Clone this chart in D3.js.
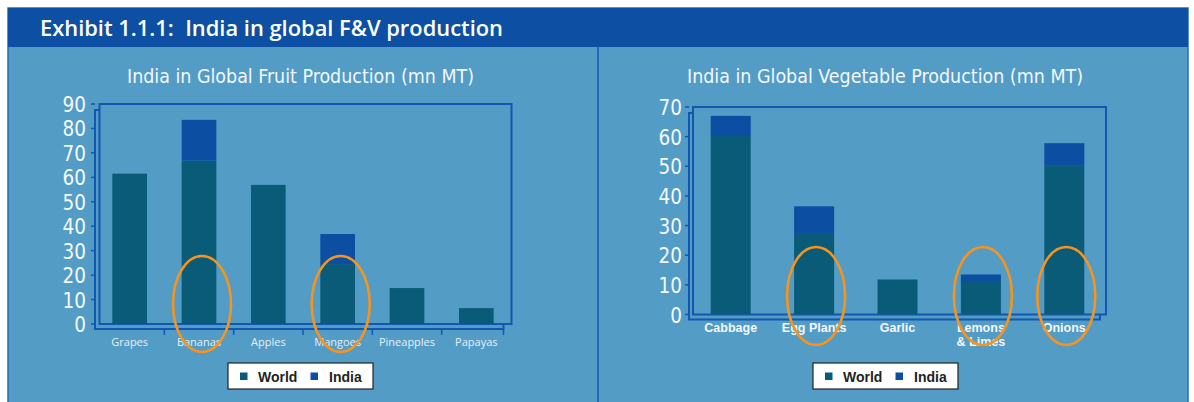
<!DOCTYPE html>
<html><head><meta charset="utf-8">
<script src="https://cdn.jsdelivr.net/npm/d3@7/dist/d3.min.js"></script>
<style>html,body{margin:0;padding:0;background:#fff;}svg{display:block;}</style>
</head><body>
<svg id="c" width="1194" height="402"></svg>
<script>
// ---- data ----
const fruitCategories = ["Grapes","Bananas","Apples","Mangoes","Pineapples","Papayas"];
const fruitWorld = [61.5, 66.8, 56.9, 24.5, 14.7, 6.5];
const fruitIndia = [0, 16.7, 0, 12.3, 0, 0];
const fruitTicks = [0,10,20,30,40,50,60,70,80,90];
const fruitHighlight = ["Bananas","Mangoes"];

const vegCategories = ["Cabbage","Egg Plants","Garlic","Lemons\n& Limes","Onions"];
const vegWorld = [60.2, 27.5, 11.8, 11.3, 50.4];
const vegIndia = [6.8, 9.0, 0, 2.2, 7.4];
const vegTicks = [0,10,20,30,40,50,60,70];
const vegHighlight = ["Egg Plants","Lemons\n& Limes","Onions"];

const seriesNames = ["World","India"];
const seriesColors = ["#0a5b78","#0c4ea2"];

const svg = d3.select("#c");
const BODY = "#529cc6", HEAD = "#0d4fa2", FRAME = "#1257b0";
const NARROW = "'Liberation Sans Narrow','DejaVu Sans Condensed',sans-serif";

// panel
svg.append("rect").attr("x",8).attr("y",8).attr("width",1180).attr("height",400).attr("fill",BODY)
  .attr("stroke","#2a6bb8").attr("stroke-width",1.5);
svg.append("rect").attr("x",8).attr("y",8).attr("width",1180).attr("height",39).attr("fill",HEAD);
svg.append("line").attr("x1",598).attr("x2",598).attr("y1",47).attr("y2",402).attr("stroke","#1a5fb0").attr("stroke-width",1.6);
svg.append("text").attr("x",40).attr("y",35.5).text("Exhibit 1.1.1:\u00a0\u00a0India in global F&V production")
  .attr("fill","#fff").attr("font-family","'Open Sans',sans-serif").attr("font-weight",600).attr("font-size",21.5)
  .attr("textLength",463).attr("lengthAdjust","spacingAndGlyphs");

function chart(o){
  const g = svg.append("g");
  const x = d3.scaleBand().domain(o.cats).range([o.x0,o.x1]).paddingInner(o.pi).paddingOuter(o.po);
  const y = d3.scaleLinear().domain([0,o.max]).range([o.yb,o.yt]);
  // title
  g.append("text").attr("x",o.tx).attr("y",83).text(o.title).attr("fill","#f4f7fb")
    .attr("font-family",NARROW).attr("font-size",20).attr("text-anchor","middle")
    .attr("textLength",o.tw).attr("lengthAdjust","spacingAndGlyphs");
  // inner box
  g.append("rect").attr("x",o.bx0).attr("y",o.yt).attr("width",o.bx1-o.bx0).attr("height",o.yb-o.yt)
    .attr("fill","none").attr("stroke",FRAME).attr("stroke-width",2);
  // front axes (3D offset)
  g.append("path").attr("d",`M${o.bx0},${o.yt+6}H${o.ax}V${o.yb+5}H${o.axEnd}V${o.yb}`)
    .attr("fill","none").attr("stroke",FRAME).attr("stroke-width",2);
  // y ticks
  g.selectAll(".yt").data(o.ticks).join("line").attr("x1",o.ax-4).attr("x2",o.ax)
    .attr("y1",d=>y(d)).attr("y2",d=>y(d)).attr("stroke",FRAME).attr("stroke-width",1.5);
  g.selectAll(".yl").data(o.ticks).join("text").attr("x",o.lx).attr("y",d=>y(d)+1)
    .attr("text-anchor","end").attr("dominant-baseline","central").attr("fill","#f6f9fc")
    .attr("font-family",NARROW).attr("font-size",20.5).text(d=>d);
  if(o.catTicks){
    const bounds = o.cats.slice(1).map(c=>x(c)-x.step()*x.paddingInner()/2).concat([o.axEnd]);
    g.selectAll(".xt").data(bounds).join("line").attr("x1",d=>d).attr("x2",d=>d)
      .attr("y1",o.yb+5).attr("y2",o.yb+11).attr("stroke",FRAME).attr("stroke-width",1.5);
  }
  // bars (stacked)
  const rows = o.cats.map((c,i)=>({c, w:o.world[i], n:o.india[i]}));
  g.selectAll(".bw").data(rows).join("rect").attr("x",d=>x(d.c)).attr("width",x.bandwidth())
    .attr("y",d=>y(d.w)).attr("height",d=>y(0)-y(d.w)).attr("fill",seriesColors[0]);
  g.selectAll(".bi").data(rows.filter(d=>d.n>0)).join("rect").attr("x",d=>x(d.c)).attr("width",x.bandwidth())
    .attr("y",d=>y(d.w+d.n)).attr("height",d=>y(d.w)-y(d.w+d.n)).attr("fill",seriesColors[1]);
  // category labels
  const lab = g.selectAll(".cl").data(o.cats).join("text").attr("text-anchor","middle")
    .attr("fill",o.catColor).attr("font-family",o.catFont).attr("font-weight",o.catWeight).attr("font-size",o.catSize);
  lab.each(function(c){
    const t = d3.select(this);
    c.split("\n").forEach((s,i)=>t.append("tspan").attr("x",x(c)+x.bandwidth()/2).attr("y",o.cy+i*14.5).text(s));
  });
  // highlight ellipses
  g.selectAll(".el").data(o.hl).join("ellipse").attr("cx",d=>x(d)+x.bandwidth()/2+o.ecx)
    .attr("cy",o.ecy).attr("rx",29).attr("ry",o.ery).attr("fill","none").attr("stroke","#f7941d").attr("stroke-width",2.6);
  // legend
  const lg = g.append("g").attr("transform",`translate(${o.lgx},363)`);
  lg.append("rect").attr("width",145).attr("height",26).attr("fill","#fff").attr("stroke","#222").attr("stroke-width",1.2);
  seriesNames.forEach((s,i)=>{
    lg.append("rect").attr("x",12+i*70.5).attr("y",9.5).attr("width",7.5).attr("height",7.5).attr("fill",seriesColors[i]);
    lg.append("text").attr("x",30+i*71).attr("y",18.5).text(s).attr("fill","#231f20")
      .attr("font-family","'Liberation Sans',Arial,sans-serif").attr("font-weight","bold").attr("font-size",14);
  });
}

chart({cats:fruitCategories, world:fruitWorld, india:fruitIndia, ticks:fruitTicks, max:90, hl:fruitHighlight,
  x0:95, x1:511, pi:0.5, po:0.25, yb:324, yt:104, bx0:99.5, bx1:511.5, ax:95, axEnd:503.5, lx:86,
  title:"India in Global Fruit Production (mn MT)", tx:300.5, tw:347, catTicks:true,
  catColor:"#e8eff6", catFont:"'Open Sans',sans-serif", catWeight:400, catSize:11, cy:346,
  ecx:3, ecy:304, ery:48, lgx:228});

chart({cats:vegCategories, world:vegWorld, india:vegIndia, ticks:vegTicks, max:70, hl:vegHighlight,
  x0:689, x1:1106, pi:0.52, po:0.26, yb:314.5, yt:107, bx0:693, bx1:1106, ax:689, axEnd:1100, lx:682,
  title:"India in Global Vegetable Production (mn MT)", tx:885, tw:396, catTicks:false,
  catColor:"#f4f7fb", catFont:"'Liberation Sans',Arial,sans-serif", catWeight:"bold", catSize:12.5, cy:331.5,
  ecx:2, ecy:296, ery:49, lgx:813});
</script>
</body></html>
